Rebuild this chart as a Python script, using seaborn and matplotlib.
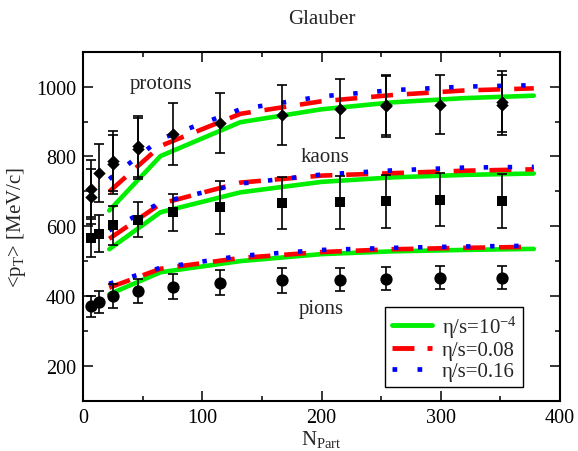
import numpy as np
import pandas as pd
import matplotlib
matplotlib.use("Agg")
import matplotlib.pyplot as plt
import seaborn as sns
from matplotlib.lines import Line2D

# ---------------- data ----------------
data_npart = [6.4, 13.7, 25.4, 45.8, 75.2, 115, 166.6, 215.5, 254, 299.4, 351.6]
pion_pt = [370, 382, 399, 414, 427, 438, 445, 447, 450, 452, 452]
pion_err = [30, 31, 34, 34, 35, 36, 35, 33, 33, 33, 33]
kaon_pt = [566, 579, 602, 619, 640, 654, 666, 668, 671, 676, 673]
kaon_err = [55, 52, 57, 51, 53, 75, 75, 77, 77, 76, 77]
proton_pt = [708, 752, 787, 829, 865, 896, 919, 937, 947, 948, 957]
proton_err = [82, 83, 85, 87, 89, 87, 86, 84, 86, 84, 87]
proton2_npart = [6.4, 25.4, 45.8, 254, 351.6]
proton2_pt = [685, 777, 822, 943, 947]
proton2_err = [80, 85, 87, 87, 87]

hydro_npart = [22, 65, 132, 200, 260, 320, 378]
pion_ideal = [405, 468, 500, 520, 528, 532, 535]
pion_eta008 = [424, 478, 509, 526, 534, 538, 541]
pion_eta016 = [435, 481, 515, 532, 538, 542, 544]
kaon_ideal = [534, 640, 697, 727, 740, 747, 751]
kaon_eta008 = [564, 664, 725, 745, 752, 759, 763]
kaon_eta016 = [588, 668, 722, 748, 760, 768, 770]
proton_ideal = [645, 801, 898, 935, 955, 967, 974]
proton_eta008 = [699, 830, 922, 958, 976, 989, 995]
proton_eta016 = [735, 850, 935, 972, 990, 1000, 1004]

models = ["ideal", "eta008", "eta016"]
legend_labels = ["η/s=10$^{-4}$", "η/s=0.08", "η/s=0.16"]
colors = {"ideal": "#00ee00", "eta008": "#ff0000", "eta016": "#0000ff"}

# ---------------- style ----------------
sns.set_theme(style="ticks")
plt.rcParams["font.family"] = ["Liberation Serif", "DejaVu Serif"]
plt.rcParams["mathtext.fontset"] = "custom"
plt.rcParams["mathtext.rm"] = "Liberation Serif"
plt.rcParams["mathtext.it"] = "Liberation Serif:italic"
plt.rcParams["lines.scale_dashes"] = False

rows = []
for species, vals in [("pion", [pion_ideal, pion_eta008, pion_eta016]),
                      ("kaon", [kaon_ideal, kaon_eta008, kaon_eta016]),
                      ("proton", [proton_ideal, proton_eta008, proton_eta016])]:
    for m, v in zip(models, vals):
        for x, y in zip(hydro_npart, v):
            rows.append({"Npart": x, "pT": y, "species": species, "model": m})
theory = pd.DataFrame(rows)

fig = plt.figure(figsize=(5.78, 4.52), dpi=100)
ax = fig.add_axes([0.1436, 0.1113, 0.8253, 0.7721])

dash_styles = {"ideal": "", "eta008": (15.8, 10.0), "eta016": (3.2, 14.1)}
for m in models:
    sub = theory[theory["model"] == m]
    sns.lineplot(data=sub, x="Npart", y="pT", units="species", estimator=None,
                 sort=False, color=colors[m], linewidth=3.3, ax=ax, legend=False,
                 dashes=False)
    if dash_styles[m]:
        for ln in ax.lines[-3:]:
            ln.set_dashes(dash_styles[m])
            ln.set_dash_capstyle("butt")

# error bars
err_kw = dict(fmt="none", ecolor="black", elinewidth=1.2, capsize=3.8, capthick=1.2, zorder=4)
ax.errorbar(data_npart, pion_pt, yerr=pion_err, **err_kw)
ax.errorbar(data_npart, kaon_pt, yerr=kaon_err, **err_kw)
ax.errorbar(data_npart, proton_pt, yerr=proton_err, **err_kw)
ax.errorbar(proton2_npart, proton2_pt, yerr=proton2_err, **err_kw)

sc_kw = dict(color="black", edgecolor="black", linewidth=0, ax=ax, legend=False, zorder=5)
sns.scatterplot(x=data_npart, y=pion_pt, marker="o", s=78, **sc_kw)
sns.scatterplot(x=data_npart, y=kaon_pt, marker="s", s=55, **sc_kw)
sns.scatterplot(x=data_npart, y=proton_pt, marker="D", s=40, **sc_kw)
sns.scatterplot(x=proton2_npart, y=proton2_pt, marker="D", s=40, **sc_kw)

ax.set_xlim(0, 400)
ax.set_ylim(100, 1100)
ax.set_xticks([0, 100, 200, 300, 400])
ax.set_xticks(np.arange(50, 400, 100), minor=True)
ax.set_yticks([200, 400, 600, 800, 1000])
ax.set_yticks(np.arange(100, 1101, 200), minor=True)
ax.tick_params(which="both", direction="in", top=True, right=True, width=1.1,
               labelsize=14.5, colors="black", pad=5)
ax.tick_params(which="major", length=7)
ax.tick_params(which="minor", length=3.5)
for sp in ax.spines.values():
    sp.set_linewidth(1.5)
    sp.set_color("black")

ax.set_xlabel(r"N$_{\mathrm{Part}}$", fontsize=15, labelpad=1)
ax.set_ylabel(r"<p$_{\mathrm{T}}$> [MeV/c]", fontsize=15, labelpad=6)
ax.set_title("Glauber", fontsize=15, pad=21)

ax.text(65.4, 995, "protons", ha="center", va="baseline", fontsize=15)
ax.text(203, 787, "kaons", ha="center", va="baseline", fontsize=15)
ax.text(200, 351, "pions", ha="center", va="baseline", fontsize=15)

handles = [
    Line2D([], [], color=colors["ideal"], lw=3.5),
    Line2D([], [], color=colors["eta008"], lw=3.5, dashes=(15.8, 9.4, 3.6, 30), dash_capstyle="butt"),
    Line2D([], [], color=colors["eta016"], lw=3.4, dashes=(3.4, 14.6), dash_capstyle="butt"),
]
leg = ax.legend(handles, legend_labels, loc="lower right", bbox_to_anchor=(0.922, 0.039),
                borderaxespad=0, fontsize=15, handlelength=1.92, handletextpad=0.48,
                labelspacing=0.05, borderpad=0.3, fancybox=False, framealpha=1,
                edgecolor="black")
leg.get_frame().set_linewidth(1.0)

fig.savefig("out.png", dpi=100)
